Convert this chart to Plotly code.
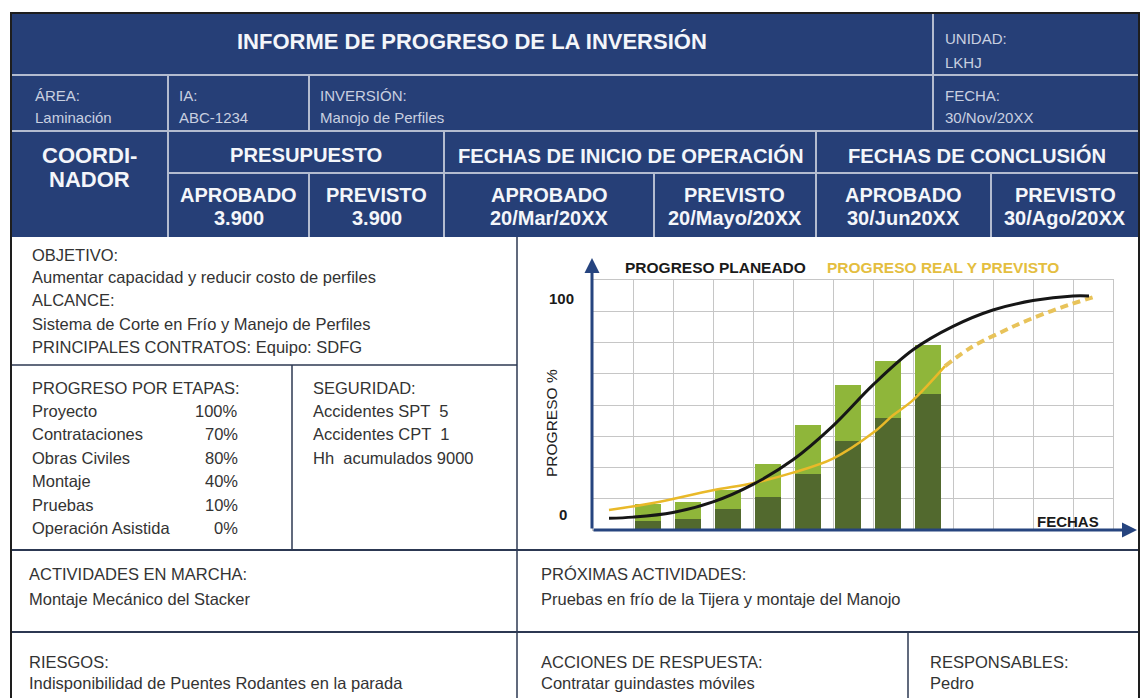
import plotly.graph_objects as go

W, H = 1141, 698
FONT = "Liberation Sans, Arial, sans-serif"

# ---------------- data ----------------
periods = [1, 2, 3, 4, 5, 6, 7, 8]
bar_total = [11, 12, 17, 28, 45, 62, 72, 79]
bar_real = [4, 4.5, 9, 14, 24, 38, 48, 58]

plan_x = [0.4, 1, 2, 3, 4, 5, 6, 7, 8, 9, 10, 11, 12, 12.4]
plan_y = [5, 5.5, 7.5, 12, 19.5, 30, 44.5, 62, 77, 87, 94, 98, 100, 100]

real_x = [0.4, 1.5, 3, 4, 5, 6, 7, 7.5, 8, 8.8]
real_y = [8.5, 11.5, 17, 20, 24.5, 30.5, 41.5, 49, 55.5, 70]

fcst_x = [8.8, 9.45, 10.2, 10.85, 11.7, 12.6]
fcst_y = [70, 78, 84.5, 89.5, 95, 100]

stage_names = ["Proyecto", "Contrataciones", "Obras Civiles", "Montaje", "Pruebas", "Operación Asistida"]
stage_pct = ["100%", "70%", "80%", "40%", "10%", "0%"]

seguridad = ["Accidentes SPT  5", "Accidentes CPT  1", "Hh  acumulados 9000"]

header_small = [  # label, value
    ("ÁREA:", "Laminación"),
    ("IA:", "ABC-1234"),
    ("INVERSIÓN:", "Manojo de Perfiles"),
    ("FECHA:", "30/Nov/20XX"),
]
unidad = ("UNIDAD:", "LKHJ")
groups = ["PRESUPUESTO", "FECHAS DE INICIO DE OPERACIÓN", "FECHAS DE CONCLUSIÓN"]
sub_labels = ["APROBADO", "PREVISTO", "APROBADO", "PREVISTO", "APROBADO", "PREVISTO"]
sub_values = ["3.900", "3.900", "20/Mar/20XX", "20/Mayo/20XX", "30/Jun20XX", "30/Ago/20XX"]

# ---------------- layout helpers ----------------
ann = []
shapes = []


def px(x):
    return x / W


def py(y):
    return 1 - y / H


def text(x, y, s, size=16.5, color="#333333", bold=False, xanchor="left", angle=0):
    ann.append(dict(x=px(x), y=py(y), xref="paper", yref="paper",
                    text=f"<b>{s}</b>" if bold else s, showarrow=False,
                    xanchor=xanchor, yanchor="middle", textangle=angle,
                    font=dict(family=FONT, size=size, color=color)))


def line(x0, y0, x1, y1, color, width):
    shapes.append(dict(type="line", xref="paper", yref="paper",
                       x0=px(x0), y0=py(y0), x1=px(x1), y1=py(y1),
                       line=dict(color=color, width=width), layer="above"))


def rect(x0, y0, x1, y1, fill, lc=None, lw=0):
    shapes.append(dict(type="rect", xref="paper", yref="paper",
                       x0=px(x0), y0=py(y0), x1=px(x1), y1=py(y1),
                       fillcolor=fill, line=dict(color=lc or fill, width=lw), layer="below"))


# ---------------- header ----------------
BLUE = "#263f77"
HL = "#b3bcd0"
L, R, TOP, HB = 11, 1139, 13, 237
rect(L, TOP, R, HB, BLUE)
# header grid lines
line(L, 75, R, 75, HL, 2)
line(L, 131, R, 131, HL, 2)
line(168, 173, R, 173, HL, 2)
line(933, TOP, 933, 131, HL, 2)
line(168, 75, 168, HB, HL, 2)
line(309, 75, 309, 131, HL, 2)
line(309, 173, 309, HB, HL, 2)
line(444, 131, 444, HB, HL, 2)
line(816, 131, 816, HB, HL, 2)
line(654, 173, 654, HB, HL, 2)
line(991, 173, 991, HB, HL, 2)

SMALL = "#c9d0e0"
WHITE = "#f4f6fa"
text(472, 42, "INFORME DE PROGRESO DE LA INVERSIÓN", size=22, color=WHITE, bold=True, xanchor="center")
text(943, 38, unidad[0], size=15, color=SMALL)
text(943, 62, unidad[1], size=15, color=SMALL)
for (lab, val), x in zip(header_small, [33, 177, 318, 943]):
    text(x, 95, lab, size=15, color=SMALL)
    text(x, 117, val, size=15, color=SMALL)

text(89.5, 155, "COORDI-", size=22, color=WHITE, bold=True, xanchor="center")
text(89.5, 179, "NADOR", size=22, color=WHITE, bold=True, xanchor="center")
for g, cx in zip(groups, [306, 630, 977]):
    text(cx, 155, g, size=20.2, color=WHITE, bold=True, xanchor="center")
sub_cx = [238.5, 376.5, 549, 735, 903.5, 1065]
for lab, val, cx in zip(sub_labels, sub_values, sub_cx):
    text(cx, 195, lab, size=20, color=WHITE, bold=True, xanchor="center")
    text(cx, 218, val, size=20, color=WHITE, bold=True, xanchor="center")

# ---------------- white panels ----------------
DL = "#2c3852"
line(517, HB, 517, 700, DL, 1.5)
line(L, 365, 517, 365, DL, 1.5)
line(292, 365, 292, 550, DL, 1.5)
line(L, 550, R, 550, DL, 2)
line(L, 632, R, 632, DL, 2)
line(908, 632, 908, 700, DL, 1.5)
# outer frame
shapes.append(dict(type="rect", xref="paper", yref="paper", x0=px(L), y0=py(702), x1=px(R), y1=py(TOP),
                   line=dict(color="#1e1e1e", width=2), fillcolor="rgba(0,0,0,0)", layer="above"))

text(30, 255, "OBJETIVO:")
text(30, 277, "Aumentar capacidad y reducir costo de perfiles")
text(30, 300, "ALCANCE:")
text(30, 324, "Sistema de Corte en Frío y Manejo de Perfiles")
text(30, 347, "PRINCIPALES CONTRATOS: Equipo: SDFG")

text(30, 388, "PROGRESO POR ETAPAS:")
for i, (n, p) in enumerate(zip(stage_names, stage_pct)):
    yy = 411 + i * 23.4
    text(30, yy, n)
    text(240, yy, p, xanchor="right")
text(311, 388, "SEGURIDAD:")
for i, s in enumerate(seguridad):
    text(311, 411 + i * 23.4, s)

text(27, 574, "ACTIVIDADES EN MARCHA:")
text(27, 599, "Montaje Mecánico del Stacker")
text(539, 574, "PRÓXIMAS ACTIVIDADES:")
text(539, 599, "Pruebas en frío de la Tijera y montaje del Manojo")
text(27, 662, "RIESGOS:")
text(27, 683, "Indisponibilidad de Puentes Rodantes en la parada")
text(539, 662, "ACCIONES DE RESPUESTA:")
text(539, 683, "Contratar guindastes móviles")
text(928, 662, "RESPONSABLES:")
text(928, 683, "Pedro")

# ---------------- chart ----------------
GX0, GX1, GY0, GY1 = 593, 1113, 280, 530  # plot area in px
N_COLS, N_ROWS = 13, 8
YMAX = 106.8  # value at top grid border

fig = go.Figure()
fig.add_trace(go.Bar(x=periods, y=bar_total, offset=0.05, width=0.64,
                     marker=dict(color="#8fb63a", line=dict(width=0)), hoverinfo="skip"))
fig.add_trace(go.Bar(x=periods, y=bar_real, offset=0.05, width=0.64,
                     marker=dict(color="#52692e", line=dict(width=0)), hoverinfo="skip"))
fig.add_trace(go.Scatter(x=real_x, y=real_y, mode="lines", line=dict(color="#e9b929", width=2.5, shape="spline"),
                         hoverinfo="skip"))
fig.add_trace(go.Scatter(x=fcst_x, y=fcst_y, mode="lines",
                         line=dict(color="#e8c35a", width=4, dash="8px,5px", shape="spline"), hoverinfo="skip"))
fig.add_trace(go.Scatter(x=plan_x, y=plan_y, mode="lines", line=dict(color="#161616", width=3, shape="spline"),
                         hoverinfo="skip"))

fig.update_xaxes(domain=[px(GX0), px(GX1)], range=[0, N_COLS], dtick=1, tick0=0, showticklabels=False,
                 showgrid=True, gridcolor="#c6c6c6", gridwidth=1, zeroline=False,
                 showline=True, linecolor="#c6c6c6", mirror=True, ticks="", fixedrange=True)
fig.update_yaxes(domain=[py(GY1), py(GY0)], range=[0, YMAX], dtick=YMAX / N_ROWS, tick0=0,
                 showticklabels=False, showgrid=True, gridcolor="#c6c6c6", gridwidth=1, zeroline=False,
                 showline=True, linecolor="#c6c6c6", mirror=True, ticks="", fixedrange=True)

AX = "#26447f"
ann.append(dict(x=px(592), y=py(258), xref="paper", yref="paper", text="", showarrow=True,
                ax=0, ay=272, arrowhead=2, arrowsize=1, arrowwidth=3, arrowcolor=AX))
ann.append(dict(x=px(1137), y=py(530), xref="paper", yref="paper", text="", showarrow=True,
                ax=-545, ay=0, arrowhead=2, arrowsize=1, arrowwidth=3, arrowcolor=AX))

text(623, 267, "PROGRESO PLANEADO", size=15.5, color="#1a1a1a", bold=True)
text(825, 267, "PROGRESO REAL Y PREVISTO", size=15.5, color="#e4be40", bold=True)
text(561, 299, "100", size=15, color="#1a1a1a", bold=True, xanchor="center")
text(563, 514, "0", size=15, color="#1a1a1a", bold=True, xanchor="center")
text(551, 423, "PROGRESO %", size=15.5, color="#222222", xanchor="center", angle=-90)
text(1068, 521, "FECHAS", size=15, color="#1a1a1a", bold=True, xanchor="center")

fig.update_layout(width=W, height=H, margin=dict(l=0, r=0, t=0, b=0),
                  paper_bgcolor="white", plot_bgcolor="rgba(0,0,0,0)",
                  barmode="overlay", bargap=0, showlegend=False,
                  annotations=ann, shapes=shapes)

fig.write_html("out.html", config={"displayModeBar": False, "staticPlot": True},
               post_script="document.body.style.margin='0';document.body.style.overflow='hidden';")
